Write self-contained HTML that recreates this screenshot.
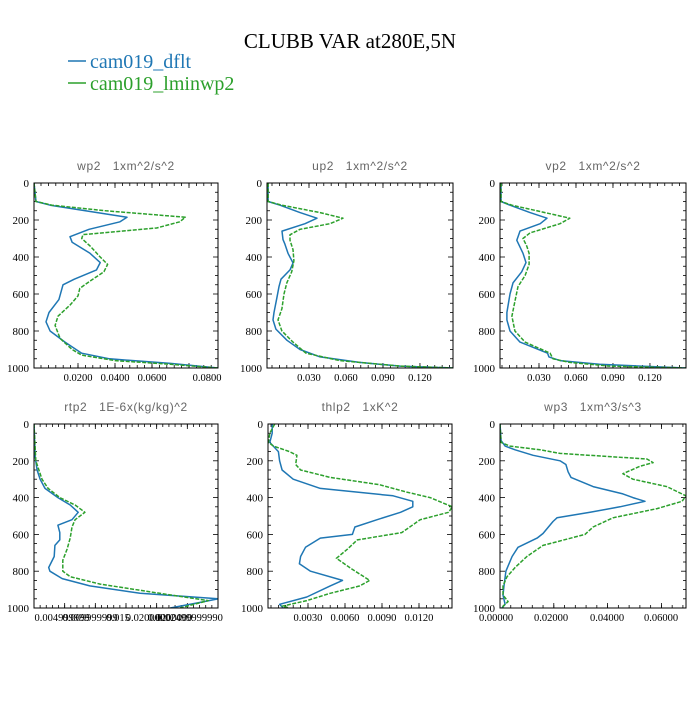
<!DOCTYPE html>
<html><head><meta charset="utf-8"><style>
body{margin:0;background:#fff;}
svg text{font-family:"Liberation Serif",serif;}
</style></head><body>
<svg id="c" width="700" height="700" viewBox="0 0 700 700" xmlns="http://www.w3.org/2000/svg">
<text x="350" y="48" text-anchor="middle" font-size="21">CLUBB VAR at280E,5N</text>
<g>
<line x1="68" y1="61" x2="86" y2="61" stroke="#1f77b4" stroke-width="1.5"/>
<text x="90" y="68" font-size="20" fill="#1f77b4">cam019_dflt</text>
<line x1="68" y1="83" x2="86" y2="83" stroke="#2ca02c" stroke-width="1.5"/>
<text x="90" y="90" font-size="20" fill="#2ca02c">cam019_lminwp2</text>
</g>
</svg>
<script>
const pWp2B=[0,100,120,150,185,210,250,290,320,380,430,470,520,550,630,700,750,800,860,920,950,975,1000];
const wp2B=[-0.0038,-0.0027,0.005,0.024,0.0465,0.0427,0.026,0.0157,0.0168,0.0265,0.032,0.030,0.018,0.0119,0.0097,0.0043,0.0027,0.0049,0.013,0.022,0.037,0.070,0.0957];
const pWp2G=[0,100,120,150,185,210,243,279,300,340,400,440,480,530,570,610,660,720,770,840,900,930,960,980,1000];
const wp2G=[-0.0038,-0.0027,0.006,0.035,0.078,0.075,0.0625,0.0227,0.022,0.0265,0.032,0.036,0.034,0.0265,0.021,0.020,0.0157,0.0092,0.0076,0.0103,0.0168,0.022,0.040,0.070,0.0957];
const pUp2B=[0,100,120,160,190,220,260,306,330,380,432,470,520,560,620,700,740,790,850,900,940,970,990,1000];
const up2B=[-0.0032,-0.0032,0.0065,0.0227,0.0365,0.0268,0.0081,0.0089,0.0105,0.013,0.017,0.0146,0.0073,0.0057,0.004,0.0016,0.0008,0.0032,0.0122,0.0227,0.039,0.071,0.104,0.147];
const pUp2G=[0,100,120,160,190,220,250,280,310,360,420,480,540,600,680,740,800,860,920,960,990,1000];
const up2G=[-0.0032,-0.0032,0.0081,0.039,0.0576,0.047,0.0227,0.0146,0.0146,0.017,0.0178,0.016,0.012,0.0097,0.008,0.0049,0.008,0.017,0.0276,0.055,0.104,0.147];
const pVp2B=[0,100,120,160,190,220,260,310,380,430,480,540,600,700,740,800,860,920,940,960,980,1000];
const vp2B=[-0.0008,-0.0008,0.0065,0.0227,0.0365,0.031,0.0146,0.012,0.017,0.0195,0.016,0.0089,0.0065,0.004,0.004,0.0065,0.0146,0.037,0.038,0.047,0.079,0.149];
const pVp2G=[0,100,120,160,190,220,270,300,340,380,440,500,560,640,720,800,860,920,950,970,990,1000];
const vp2G=[-0.0008,-0.0008,0.008,0.0349,0.055,0.047,0.0227,0.017,0.020,0.022,0.022,0.0187,0.013,0.0105,0.008,0.0105,0.0187,0.039,0.0414,0.055,0.087,0.149];
const pRtp2B=[0,180,250,300,350,400,440,480,520,550,590,630,660,720,780,800,840,880,920,950,970,1000];
const rtp2B=[0,0.0002,0.0005,0.001,0.0018,0.0039,0.0059,0.0072,0.0062,0.0039,0.0042,0.0042,0.0034,0.0033,0.0024,0.0026,0.0046,0.0091,0.0173,0.030,0.027,0.0222];
const pRtp2G=[0,200,300,350,400,440,480,520,560,620,680,740,800,830,870,920,960,1000];
const rtp2G=[0,0.0003,0.0013,0.0023,0.0042,0.0067,0.0083,0.0067,0.0062,0.0059,0.0054,0.0047,0.0047,0.0059,0.0108,0.0205,0.0284,0.0238];
const pThB=[0,50,100,150,200,250,300,350,390,420,450,480,520,560,600,620,670,720,760,800,850,880,940,980,1000];
const thB=[0.0001,0.0001,-0.0001,0.0006,0.0007,0.0009,0.0018,0.004,0.0099,0.0115,0.0115,0.0105,0.0086,0.0068,0.0066,0.004,0.0028,0.0024,0.0023,0.0032,0.0058,0.0048,0.0029,0.0007,0.001];
const pThG=[0,50,100,120,150,170,220,250,290,330,370,400,450,480,520,590,630,680,730,790,850,880,920,960,990,1000];
const thG=[0.0003,-0.0001,-0.0002,0.0002,0.0015,0.0021,0.002,0.0024,0.0048,0.0088,0.011,0.0129,0.0147,0.0144,0.0121,0.0106,0.007,0.0062,0.0053,0.0066,0.008,0.0072,0.0048,0.0029,0.0009,0.0015];
const pWp3B=[0,90,120,140,170,200,220,260,290,340,380,400,420,450,480,510,530,595,620,670,720,800,880,930,980,1000];
const wp3B=[0,0.0004,0.0019,0.0056,0.0123,0.0223,0.0245,0.0253,0.0264,0.0346,0.0457,0.0494,0.0539,0.0446,0.0335,0.0212,0.0197,0.016,0.0138,0.0067,0.0045,0.0022,0.0015,0.0011,0.0019,0.0007];
const pWp3G=[0,100,120,140,160,190,210,230,270,300,340,390,420,460,510,560,600,660,720,780,830,880,930,965,990,1000];
const wp3G=[0,0.0004,0.0037,0.0149,0.0223,0.0546,0.0569,0.052,0.0457,0.0494,0.062,0.0691,0.0677,0.0584,0.042,0.0346,0.0316,0.016,0.010,0.0056,0.0026,0.0011,0.0011,0.003,0.0011,0.0011];
const yTicks=[0,200,400,600,800,1000];

const svg=document.getElementById('c');
const NS='http://www.w3.org/2000/svg';
function mk(tag,attrs,parent){const e=document.createElementNS(NS,tag);for(const k in attrs)e.setAttribute(k,attrs[k]);parent.appendChild(e);return e;}

const panels=[
 {name:'wp2',title:'wp2   1xm^2/s^2',x0:34,x1:218,y0:183,y1:368,zeroPx:41,ppu:1850,ticks:[0.02,0.04,0.06,0.08],labels:['0.0200','0.0400','0.0600','0.0800'],labelPx:[78,115,152,207],minor:0.004,series:[[pWp2B,wp2B],[pWp2G,wp2G]]},
 {name:'up2',title:'up2   1xm^2/s^2',x0:267,x1:453,y0:183,y1:368,zeroPx:272,ppu:1233,ticks:[0.03,0.06,0.09,0.12],labels:['0.030','0.060','0.090','0.120'],minor:0.006,series:[[pUp2B,up2B],[pUp2G,up2G]]},
 {name:'vp2',title:'vp2   1xm^2/s^2',x0:500,x1:686,y0:183,y1:368,zeroPx:502,ppu:1233,ticks:[0.03,0.06,0.09,0.12],labels:['0.030','0.060','0.090','0.120'],minor:0.006,series:[[pVp2B,vp2B],[pVp2G,vp2G]]},
 {name:'rtp2',title:'rtp2   1E-6x(kg/kg)^2',x0:34,x1:218,y0:424,y1:608,zeroPx:34,ppu:6133,ticks:[0.005,0.01,0.015,0.02,0.025,0.03],labels:['0.004999999','0.009999999','0.015','0.0200000','0.0200000','0.02499999990'],labelPx:[62,90,118,148,170,190],minor:0.001,series:[[pRtp2B,rtp2B],[pRtp2G,rtp2G]]},
 {name:'thlp2',title:'thlp2   1xK^2',x0:268,x1:452,y0:424,y1:608,zeroPx:271,ppu:12333,ticks:[0.003,0.006,0.009,0.012],labels:['0.0030','0.0060','0.0090','0.0120'],minor:0.0006,series:[[pThB,thB],[pThG,thG]]},
 {name:'wp3',title:'wp3   1xm^3/s^3',x0:500,x1:686,y0:424,y1:608,zeroPx:500,ppu:2690,ticks:[0,0.02,0.04,0.06],labels:['0.00000','0.02000','0.04000','0.06000'],labelPx:[496,551,607,661],minor:0.004,series:[[pWp3B,wp3B],[pWp3G,wp3G]]}
];
const colors=['#1f77b4','#2ca02c'];
panels.forEach(P=>{
 const g=mk('g',{},svg);
 
 
 const X=v=>P.zeroPx+v*P.ppu;
 const Y=p=>P.y0+p/1000*(P.y1-P.y0);
 const t=mk('text',{x:(P.x0+P.x1)/2,y:P.y0-13,'text-anchor':'middle','font-size':'12',fill:'#666'},g);
 t.setAttribute('style','font-family:"Liberation Sans",sans-serif;letter-spacing:0.6px;white-space:pre');
 t.textContent=P.title;
 
 
 const cid='clip'+P.name;
 const cp=mk('clipPath',{id:cid},g);
 mk('rect',{x:P.x0,y:P.y0,width:P.x1-P.x0,height:P.y1-P.y0},cp);
 for(let p=0;p<=1000;p+=50){
  const len=(p%200===0)?5:3;
  mk('line',{x1:P.x0,x2:P.x0+len,y1:Y(p),y2:Y(p),stroke:'#000','stroke-width':0.8},g);
  mk('line',{x1:P.x1,x2:P.x1-len,y1:Y(p),y2:Y(p),stroke:'#000','stroke-width':0.8},g);
 }
 yTicks.forEach(p=>{
  const l=mk('text',{x:P.x0-5,y:Y(p)+4,'text-anchor':'end','font-size':'11'},g);
  l.textContent=p;
  
  
 });
 for(let v=Math.ceil(((P.x0-P.zeroPx)/P.ppu)/P.minor)*P.minor; X(v)<=P.x1; v+=P.minor){
  const xx=X(v); if(xx<P.x0)continue;
  mk('line',{x1:xx,x2:xx,y1:P.y1,y2:P.y1-3,stroke:'#000','stroke-width':0.8},g);
  mk('line',{x1:xx,x2:xx,y1:P.y0,y2:P.y0+3,stroke:'#000','stroke-width':0.8},g);
 }
 P.ticks.forEach((v,i)=>{
  const xx=X(v);
  if(xx>=P.x0&&xx<=P.x1){
   mk('line',{x1:xx,x2:xx,y1:P.y1,y2:P.y1-5,stroke:'#000','stroke-width':0.8},g);
   mk('line',{x1:xx,x2:xx,y1:P.y0,y2:P.y0+5,stroke:'#000','stroke-width':0.8},g);
  }
  const lx=P.labelPx?P.labelPx[i]:xx;
  const l=mk('text',{x:lx,y:P.y1+13,'text-anchor':'middle','font-size':'10.5'},g);
  l.textContent=P.labels[i];
  
  
 });
 P.series.forEach((s,si)=>{
  const [ps,vs]=s;
  const d=ps.map((p,i)=>(i?'L':'M')+X(vs[i]).toFixed(1)+','+Y(p).toFixed(1)).join(' ');
  const path=mk('path',{d:d,fill:'none',stroke:colors[si],'stroke-width':1.5,'stroke-linejoin':'round','clip-path':'url(#'+cid+')'},g);
  if(si===1)path.setAttribute('stroke-dasharray','4,1.5');
  
  
 });
 const fr=mk('rect',{x:P.x0,y:P.y0,width:P.x1-P.x0,height:P.y1-P.y0,fill:'none',stroke:'#000','stroke-width':1},g);
 
 
});
</script>
</body></html>
